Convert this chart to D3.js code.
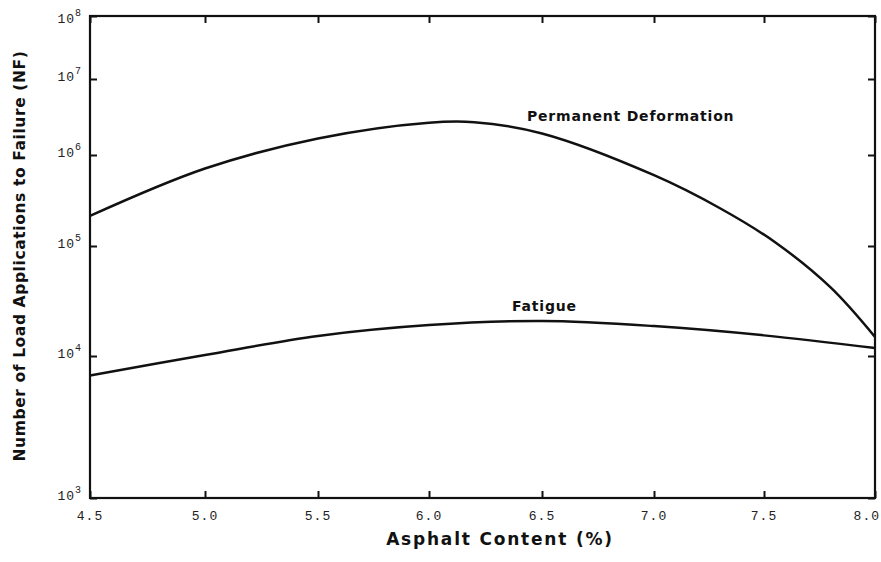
<!DOCTYPE html>
<html>
<head>
<meta charset="utf-8">
<script src="https://cdn.jsdelivr.net/npm/d3@7"></script>
<style>
  body { margin: 0; background: #fff; }
  .tick-label { font-family: "Liberation Mono", monospace; font-size: 13px; fill: #222; letter-spacing: 1px; }
  .axis-title { font-family: "DejaVu Sans", sans-serif; font-weight: bold; fill: #111; }
  .curve-label { font-family: "DejaVu Sans", sans-serif; font-weight: bold; font-size: 14px; fill: #111; }
</style>
</head>
<body>
<div id="chart"></div>
<script>
// values
var asphalt = [4.5, 5.0, 5.5, 6.0, 6.2, 6.5, 7.0, 7.3, 7.55, 7.8, 8.0];
var permDeform = [2.14e5, 7.1e5, 1.65e6, 2.66e6, 2.7e6, 1.92e6, 6.0e5, 2.6e5, 1.1e5, 4.2e4, 1.49e4];
var asphaltF = [4.5, 5.0, 5.5, 6.0, 6.5, 7.0, 7.5, 8.0];
var fatigue = [7.3e3, 1.02e4, 1.52e4, 1.91e4, 2.08e4, 1.87e4, 1.54e4, 1.18e4];

var xTicks = [4.5, 5.0, 5.5, 6.0, 6.5, 7.0, 7.5, 8.0];
var yTicks = [1e3, 1e4, 1e5, 1e6, 1e7, 1e8];
var yExponents = ["3", "4", "5", "6", "7", "8"];

function init() {
    var w = 881;
    var h = 562;

    var svg = d3.select("#chart").append("svg")
        .attr("width", w)
        .attr("height", h);

    // scanned figure is slightly stretched, so use piecewise scales
    var xScale = d3.scaleLinear()
        .domain(xTicks)
        .range([90, 205, 318, 429, 542, 654, 764, 875]);
    var yScale = d3.scaleLog()
        .domain(yTicks)
        .range([498, 356, 246, 155, 79, 16]);

    var left = xScale(4.5), right = xScale(8.0);
    var top = yScale(1e8), bottom = yScale(1e3);

    // inward ticks on all four sides
    svg.append("g")
        .attr("transform", `translate(0,${bottom})`)
        .call(d3.axisBottom(xScale).tickValues(xTicks).tickSize(-7).tickFormat(""));
    svg.append("g")
        .attr("transform", `translate(0,${top})`)
        .call(d3.axisTop(xScale).tickValues(xTicks).tickSize(-7).tickFormat(""));
    svg.append("g")
        .attr("transform", `translate(${left},0)`)
        .call(d3.axisLeft(yScale).tickValues(yTicks).tickSize(-7).tickFormat(""));
    svg.append("g")
        .attr("transform", `translate(${right},0)`)
        .call(d3.axisRight(yScale).tickValues(yTicks).tickSize(-7).tickFormat(""));
    svg.selectAll(".domain").remove();
    svg.selectAll(".tick line").attr("stroke", "#111").attr("stroke-width", 2);

    // frame
    svg.append("rect")
        .attr("x", left).attr("y", top)
        .attr("width", right - left).attr("height", bottom - top)
        .attr("fill", "none").attr("stroke", "#111").attr("stroke-width", 2.2);

    // x tick labels (last one pushed in so it stays on the page)
    svg.selectAll(".xlab").data(xTicks).enter().append("text")
        .attr("class", "tick-label")
        .attr("x", d => d === 8.0 ? w - 1 : xScale(d))
        .attr("y", 520)
        .attr("text-anchor", d => d === 8.0 ? "end" : "middle")
        .text(d => d.toFixed(1));

    // y tick labels as 10 with superscript
    var ylab = svg.selectAll(".ylab").data(yTicks).enter().append("text")
        .attr("class", "tick-label")
        .attr("x", 82)
        .attr("y", d => yScale(d) + (d === 1e8 ? 7 : 2))
        .attr("text-anchor", "end");
    ylab.append("tspan").text("10");
    ylab.append("tspan")
        .attr("dy", -7)
        .style("font-size", "10px")
        .text((d, i) => yExponents[i]);

    // curves
    var line = d3.line()
        .x(d => xScale(d[0]))
        .y(d => yScale(d[1]))
        .curve(d3.curveCatmullRom.alpha(0.5));

    svg.append("path")
        .datum(asphalt.map((x, i) => [x, permDeform[i]]))
        .attr("d", line)
        .attr("fill", "none").attr("stroke", "#111").attr("stroke-width", 2.5);
    svg.append("path")
        .datum(asphaltF.map((x, i) => [x, fatigue[i]]))
        .attr("d", line)
        .attr("fill", "none").attr("stroke", "#111").attr("stroke-width", 2.5);

    svg.append("text").attr("class", "curve-label")
        .attr("x", 527).attr("y", 121)
        .style("letter-spacing", "0.8px")
        .text("Permanent Deformation");
    svg.append("text").attr("class", "curve-label")
        .attr("x", 512).attr("y", 311)
        .style("letter-spacing", "0.8px")
        .text("Fatigue");

    // axis titles
    svg.append("text").attr("class", "axis-title")
        .attr("x", 500).attr("y", 545)
        .attr("text-anchor", "middle")
        .style("font-size", "17px")
        .style("letter-spacing", "1.8px")
        .text("Asphalt Content (%)");
    svg.append("text").attr("class", "axis-title")
        .attr("transform", "translate(25,256) rotate(-90)")
        .attr("text-anchor", "middle")
        .style("font-size", "15.5px")
        .style("letter-spacing", "0.6px")
        .text("Number of Load Applications to Failure (NF)");
}

window.onload = init;
</script>
</body>
</html>
